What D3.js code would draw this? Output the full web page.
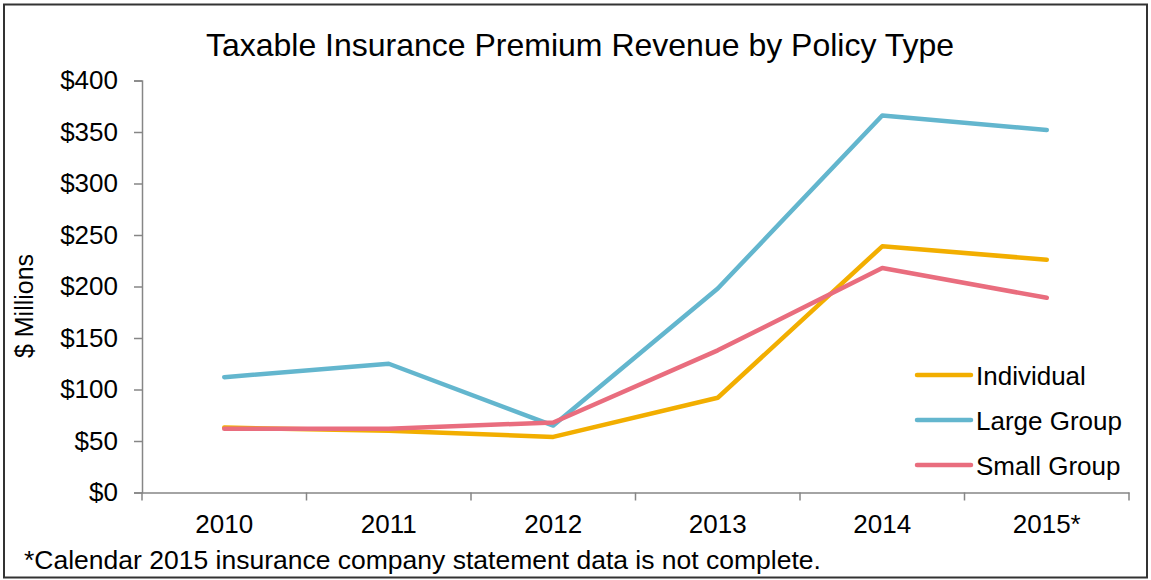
<!DOCTYPE html>
<html><head><meta charset="utf-8">
<script src="https://cdn.jsdelivr.net/npm/d3@7"></script>
<style>body{margin:0;background:#fff;}svg{display:block;font-family:"Liberation Sans",Arial,sans-serif;}</style>
</head><body>
<svg id="chart" width="1151" height="580"></svg>
<script>
const years = ["2010","2011","2012","2013","2014","2015*"];
const individual = [63, 60, 54, 92, 239, 226];
const largeGroup = [112, 125, 65, 198, 366, 352];
const smallGroup = [62, 62, 68, 138, 218, 189];
const seriesNames = ["Individual","Large Group","Small Group"];
const seriesColors = ["#F2AE00","#63B6CE","#E96D7E"];
const yTicks = [0,50,100,150,200,250,300,350,400];

const series = [individual, largeGroup, smallGroup].map((v,i)=>({name:seriesNames[i], color:seriesColors[i], values:v}));
const FONT = "Liberation Sans, Arial, sans-serif";

const svg = d3.select("#chart");
svg.append("rect").attr("x",4).attr("y",4.5).attr("width",1143).attr("height",573)
  .attr("fill","#fff").attr("stroke","#333").attr("stroke-width",2);

const x = d3.scaleBand().domain(years).range([142,1129]);
const y = d3.scaleLinear().domain([0,400]).range([492.5,80.5]);

svg.append("text").attr("x",580).attr("y",56).attr("text-anchor","middle")
  .attr("font-size",32).attr("fill","#000").text("Taxable Insurance Premium Revenue by Policy Type");

// y axis
const yAxis = svg.append("g").attr("transform","translate(142,0)")
  .call(d3.axisLeft(y).tickValues(yTicks).tickSize(8).tickPadding(16).tickFormat(d=>"$"+d));
yAxis.select(".domain").attr("stroke","#868686").attr("stroke-width",1.5);
yAxis.selectAll(".tick line").attr("stroke","#868686").attr("stroke-width",1.5);
yAxis.selectAll(".tick text").attr("font-size",26).attr("fill","#000").attr("font-family",FONT);

// x axis
const xAxis = svg.append("g").attr("transform","translate(0,492.5)")
  .call(d3.axisBottom(x).tickSize(0).tickPadding(22));
xAxis.select(".domain").attr("stroke","#868686").attr("stroke-width",1.5);
xAxis.selectAll(".tick text").attr("font-size",26).attr("fill","#000").attr("font-family",FONT);
xAxis.selectAll(".bnd").data(years.concat(["end"])).enter().append("line")
  .attr("x1",(d,i)=> i<years.length ? x(d) : x.range()[1])
  .attr("x2",(d,i)=> i<years.length ? x(d) : x.range()[1])
  .attr("y1",0).attr("y2",8).attr("stroke","#868686").attr("stroke-width",1.5);

svg.append("text").attr("transform","translate(33,306) rotate(-90)").attr("text-anchor","middle")
  .attr("font-size",25).attr("fill","#000").text("$ Millions");

const line = d3.line().x((d,i)=>x(years[i])+x.bandwidth()/2).y(d=>y(d));
svg.selectAll(".series").data(series).enter().append("path")
  .attr("d",d=>line(d.values)).attr("fill","none").attr("stroke",d=>d.color)
  .attr("stroke-width",4.5).attr("stroke-linejoin","round").attr("stroke-linecap","round");

// legend
const lg = svg.selectAll(".lg").data(series).enter().append("g")
  .attr("transform",(d,i)=>`translate(917,${375+i*45})`);
lg.append("line").attr("x1",0).attr("x2",54).attr("y1",0).attr("y2",0)
  .attr("stroke",d=>d.color).attr("stroke-width",4.5).attr("stroke-linecap","round");
lg.append("text").attr("x",59).attr("y",9.5).attr("font-size",26).attr("fill","#000").text(d=>d.name);

svg.append("text").attr("x",24).attr("y",569).attr("font-size",26.5).attr("fill","#000")
  .text("*Calendar 2015 insurance company statement data is not complete.");
</script>
</body></html>
